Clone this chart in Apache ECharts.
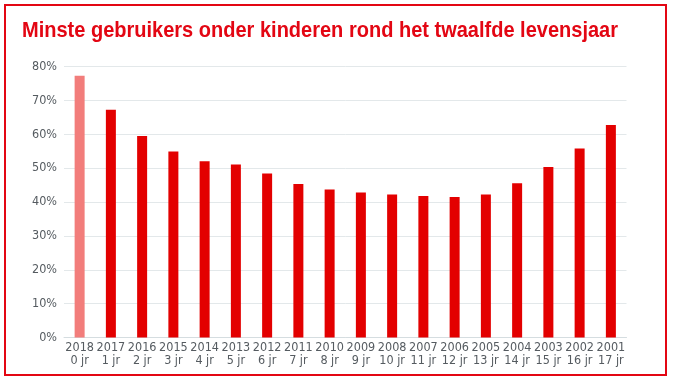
<!DOCTYPE html>
<html>
<head>
<meta charset="utf-8">
<script src="https://cdn.jsdelivr.net/npm/echarts@6/dist/echarts.min.js"></script>
<style>
html,body{margin:0;padding:0;background:#fff;}
#chart{width:675px;height:381px;}
</style>
</head>
<body>
<div id="chart"></div>
<script>
var years = ['2018','2017','2016','2015','2014','2013','2012','2011','2010','2009','2008','2007','2006','2005','2004','2003','2002','2001'];
var ages = ['0 jr','1 jr','2 jr','3 jr','4 jr','5 jr','6 jr','7 jr','8 jr','9 jr','10 jr','11 jr','12 jr','13 jr','14 jr','15 jr','16 jr','17 jr'];
var values = [77.3, 67.2, 59.5, 54.9, 52.0, 51.1, 48.4, 45.3, 43.7, 42.8, 42.2, 41.8, 41.5, 42.2, 45.5, 50.3, 55.8, 62.7];
var yTicks = [0, 10, 20, 30, 40, 50, 60, 70, 80];
var titleText = 'Minste gebruikers onder kinderen rond het twaalfde levensjaar';

var categories = years.map(function (y, i) { return y + '\n' + ages[i]; });

var titleFont = 'bold 22px "Liberation Sans", sans-serif';
var ctx = document.createElement('canvas').getContext('2d');
ctx.font = titleFont;
var titleW = ctx.measureText(titleText).width;
var titleScale = 596 / titleW;

var chart = echarts.init(document.getElementById('chart'));
chart.setOption({
  animation: false,
  backgroundColor: '#fff',
  graphic: [{
    type: 'rect', silent: true,
    shape: { x: 5, y: 5, width: 661, height: 370 },
    style: { fill: 'none', stroke: '#e30613', lineWidth: 2 }
  }, {
    type: 'text', silent: true,
    x: 22, y: 19.5, scaleX: titleScale,
    style: {
      text: titleText,
      font: titleFont,
      fill: '#e30613',
      verticalAlign: 'top'
    }
  }],
  grid: { left: 64, right: 48.5, top: 66.5, bottom: 43.5, containLabel: false },
  xAxis: {
    type: 'category',
    data: categories,
    axisTick: { show: false },
    axisLine: { lineStyle: { color: '#d5dde0', width: 1 } },
    axisLabel: { color: '#555b60', fontSize: 12.5, lineHeight: 13, margin: 4, interval: 0, fontFamily: '"DejaVu Sans Condensed", sans-serif' }
  },
  yAxis: {
    type: 'value', min: yTicks[0], max: yTicks[yTicks.length - 1], interval: 10,
    axisLine: { show: false }, axisTick: { show: false },
    splitLine: { lineStyle: { color: '#e3e8ea', width: 1 } },
    axisLabel: { formatter: '{value}%', color: '#555b60', fontSize: 12.5, margin: 7, fontFamily: '"DejaVu Sans Condensed", sans-serif' }
  },
  series: [{
    type: 'bar',
    barWidth: 10,
    data: values.map(function (v, i) {
      return { value: v, itemStyle: { color: i === 0 ? '#f27d7b' : '#e30000' } };
    })
  }]
});
</script>
</body>
</html>
